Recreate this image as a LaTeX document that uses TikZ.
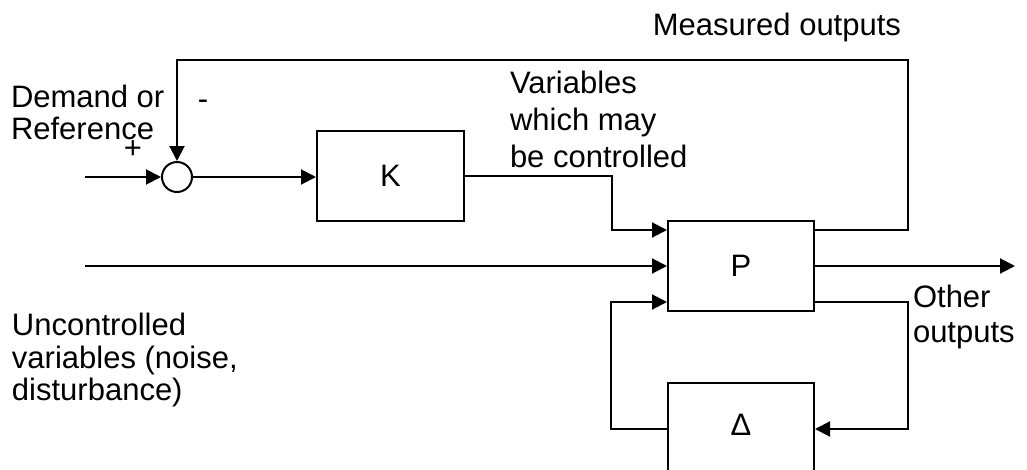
\documentclass[tikz,border=0pt]{standalone}
\usepackage{fontspec}
\setmainfont{Liberation Sans}
\usetikzlibrary{arrows.meta,calc}
\begin{document}
\begin{tikzpicture}[x=1pt,y=-1pt,line width=2pt,
  txt/.style={inner sep=0pt,font=\fontsize{31}{35}\selectfont},
  lbl/.style={txt,anchor=base west},
  box/.style={draw,rectangle,inner sep=0pt,txt},
  arr/.style={-{Triangle[length=15pt,width=15pt]}}]
\useasboundingbox (0,0) rectangle (1027,469);
% blocks
\node[draw,circle,minimum size=30pt,inner sep=0pt] (S) at (177,177) {};
\node[box,minimum width=147pt,minimum height=90pt] (K) at (390.5,176) {K};
\node[box,minimum width=146pt,minimum height=90pt] (P) at (741,266) {P\hspace{16pt}};
\node[box,minimum width=146pt,minimum height=92pt] (D) at (741,429) {\raisebox{9pt}{Δ}\hspace{16pt}};
% helper coordinates
\coordinate (in1) at (85,177);
\coordinate (in2) at (85,0);
\coordinate (out) at (1015,0);
\coordinate (kc) at (612,0);
\coordinate (lc) at (611,0);
\coordinate (rc) at (908,0);
\coordinate (fb) at (908,60);
\coordinate (P1) at ([yshift=-10pt]P.north west);
\coordinate (P3) at ([yshift=10pt]P.south west);
\coordinate (Q1) at ([yshift=-10pt]P.north east);
\coordinate (Q3) at ([yshift=10pt]P.south east);
% connectors
\draw[arr] (in1) -- (S.west);
\draw[arr] (S.east) -- (S.east -| K.west);
\draw[arr] (K.east) -| (kc |- P1) -- (P1);
\draw[arr] (in2 |- P.west) -- (P.west);
\draw[arr] (D.west) -| (lc |- P3) -- (P3);
\draw[arr] (P.east) -- (out |- P.east);
\draw[arr] (Q1) -| (fb) -| (S.north);
\draw[arr] (Q3) -| (rc |- D.east) -- (D.east);
% labels
\node[txt,anchor=base east] (mo) at (902,35) {Measured outputs};
\node[lbl] (d1) at (10,107) {Demand or};
\node[lbl] (d2) at (10,139) {Reference};
\node[txt] (plus) at (133,150) {+};
\node[txt] (minus) at (203,105) {-};
\node[lbl] (v1) at (509,93) {Variables};
\node[lbl] (v2) at (509,130) {which may};
\node[lbl] (v3) at (509,167) {be controlled};
\node[lbl] (u1) at (11,335) {Uncontrolled};
\node[lbl] (u2) at (11,368) {variables (noise,};
\node[lbl] (u3) at (11,400) {disturbance)};
\node[lbl] (o1) at (912,307) {Other};
\node[lbl] (o2) at (912,342) {outputs};
\end{tikzpicture}
\end{document}
